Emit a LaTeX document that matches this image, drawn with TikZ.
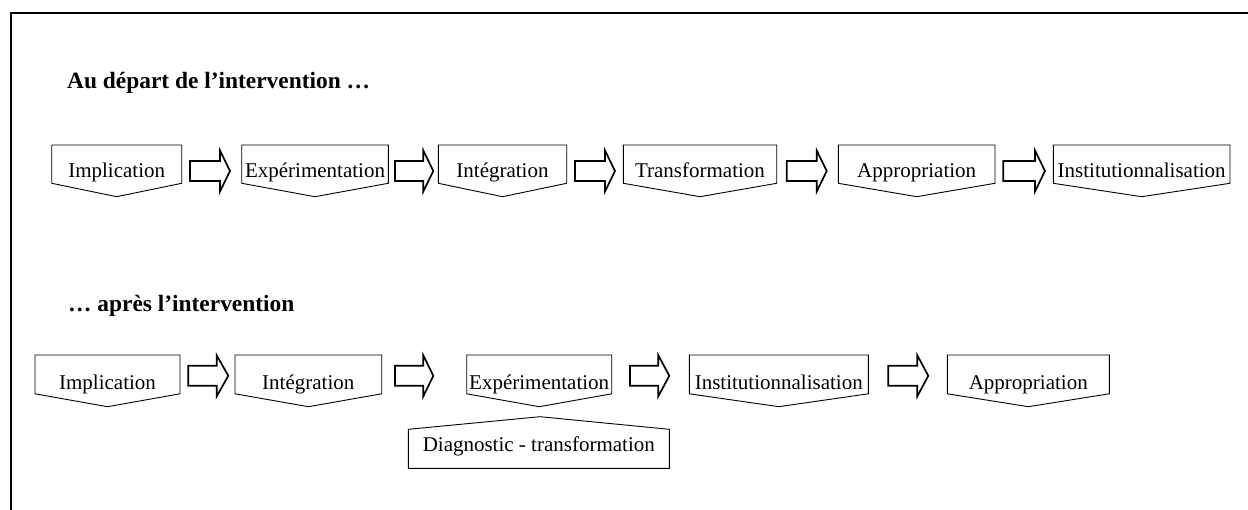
\documentclass[tikz,border=0pt]{standalone}
\usepackage{fontspec}
\setmainfont{Liberation Serif}
\usetikzlibrary{calc}

% stage box: rectangle whose lower edge is a shallow downward chevron
% #1 left x, #2 right x, #3 top y, #4 side bottom y, #5 tip y
\newcommand\stageshape[5]{%
  \draw[boxline] (#1,#3) -- (#2,#3) -- (#2,#4) -- ({(#1+#2)/2},#5) -- (#1,#4) -- cycle;}
% block arrow: #1 tail x, #2 head start x, #3 tip x, #4 centre y
\newcommand\blockarrow[4]{%
  \draw[arrowline] (#1,{#4-10}) -- (#2,{#4-10}) -- (#2,{#4-20.5}) -- (#3,#4)
     -- (#2,{#4+20.5}) -- (#2,{#4+10}) -- (#1,{#4+10}) -- cycle;}

\tikzset{
  boxline/.style={draw=black, line width=0.9pt, line join=miter},
  arrowline/.style={draw=black, line width=1.7pt, line join=miter},
  stagetext/.style={anchor=base, inner sep=0pt, font=\fontsize{21}{24}\selectfont},
  heading/.style={anchor=base west, inner sep=0pt, font=\fontsize{23.4}{27}\selectfont\bfseries},
}

\begin{document}
\begin{tikzpicture}[x=1pt, y=-1pt]
\useasboundingbox (0,0) rectangle (1248,510);
\fill[white] (0,0) rectangle (1248,510);

% frame (open at the right and bottom)
\draw[line width=2pt] (11,510) -- (11,13) -- (1248,13);

% headings
\node[heading] (h1) at (67,88.3) {Au départ de l’intervention …};
\node[heading] (h2) at (68,311.7) {… après l’intervention};

% first sequence
\stageshape{51.7}{181.7}{145}{183.3}{196.7}
\stageshape{241.7}{388.3}{145}{183.3}{196.7}
\stageshape{438.3}{566.7}{145}{183.3}{196.7}
\stageshape{623.3}{776.7}{145}{183.3}{196.7}
\stageshape{838.3}{995}{145}{183.3}{196.7}
\stageshape{1053.3}{1230}{145}{183.3}{196.7}
\node[stagetext] (a1) at (116.7,177.7) {Implication};
\node[stagetext] (a2) at (315,177.7) {Expérimentation};
\node[stagetext] (a3) at (502.5,177.7) {Intégration};
\node[stagetext] (a4) at (700,177.7) {Transformation};
\node[stagetext] (a5) at (916.7,177.7) {Appropriation};
\node[stagetext] (a6) at (1141.7,177.7) {Institutionnalisation};
\blockarrow{190}{220}{230}{171}
\blockarrow{395}{423.3}{433.3}{171}
\blockarrow{575}{605}{615}{171}
\blockarrow{786.7}{816.7}{826.7}{171}
\blockarrow{1003.3}{1035}{1045}{171}

% second sequence
\stageshape{35}{180}{355}{393.8}{406.7}
\stageshape{235}{381.7}{355}{393.8}{406.7}
\stageshape{466.7}{611.7}{355}{393.8}{406.7}
\stageshape{689.3}{868.3}{355}{393.8}{406.7}
\stageshape{947.3}{1109.3}{355}{393.8}{406.7}
\node[stagetext] (b1) at (107.5,390) {Implication};
\node[stagetext] (b2) at (308.3,390) {Intégration};
\node[stagetext] (b3) at (539.2,390) {Expérimentation};
\node[stagetext] (b4) at (778.8,390) {Institutionnalisation};
\node[stagetext] (b5) at (1028.3,390) {Appropriation};
\blockarrow{188.3}{216.7}{228.3}{375.8}
\blockarrow{395}{423.3}{433.3}{375.8}
\blockarrow{630}{658.3}{669.3}{375.8}
\blockarrow{888.3}{917.3}{928.3}{375.8}

% box attached under the experimentation stage, pointing up
\draw[boxline] (540,416.7) -- (669.3,429.3) -- (669.3,468.3) -- (408.3,468.3) -- (408.3,429.3) -- cycle;
\node[stagetext] (d1) at (538.8,451.7) {Diagnostic - transformation};
\end{tikzpicture}
\end{document}
